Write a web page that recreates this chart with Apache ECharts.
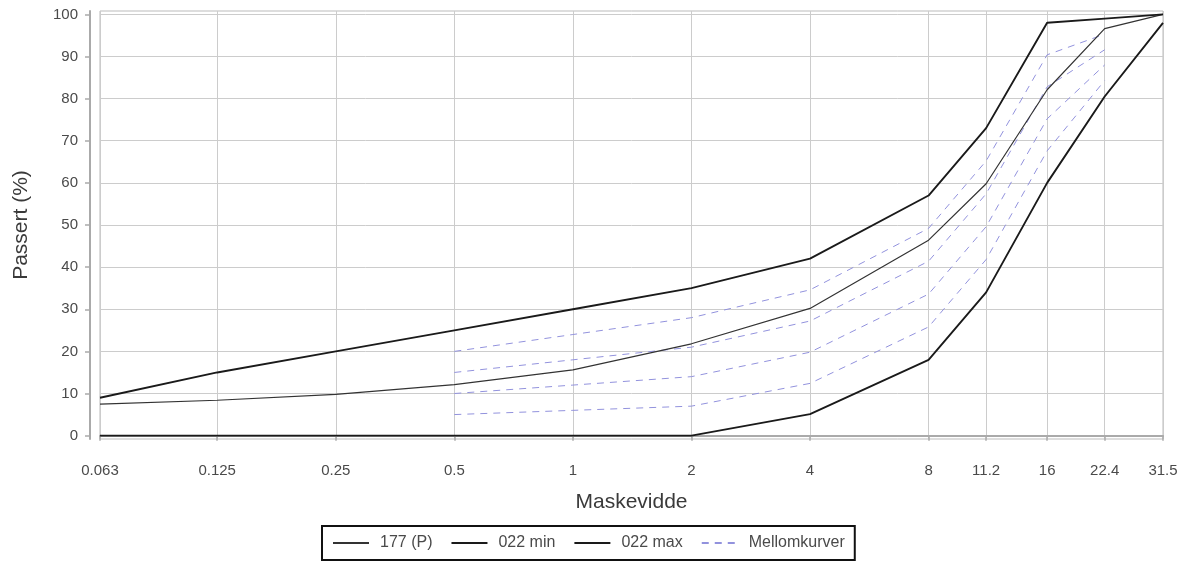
<!DOCTYPE html>
<html>
<head>
<meta charset="utf-8">
<script src="https://cdn.jsdelivr.net/npm/echarts@6/dist/echarts.min.js"></script>
<style>html,body{margin:0;padding:0;background:#fff}#c{width:1189px;height:563px}</style>
</head>
<body>
<div id="c"></div>
<script>
const sieves = [0.063, 0.125, 0.25, 0.5, 1, 2, 4, 8, 11.2, 16, 22.4, 31.5];
const p177   = [7.5, 8.4, 9.8, 12.1, 15.6, 21.8, 30.2, 46.4, 59.8, 82.1, 96.6, 100];
const min022 = [0, 0, 0, 0, 0, 0, 5.1, 18, 34, 60, 80.5, 98];
const max022 = [9, 15, 20, 25, 30, 35, 42, 57, 73, 98, 99, 100];
const mellomSieves = [0.5, 1, 2, 4, 8, 11.2, 16, 22.4];
const mellom1 = [20, 24, 28, 34.6, 49.2, 65.2, 90.4, 95.3];
const mellom2 = [15, 18, 21, 27.2, 41.4, 57.4, 82.8, 91.6];
const mellom3 = [10, 12, 14, 19.8, 33.6, 49.6, 75.2, 88];
const mellom4 = [5, 6, 7, 12.4, 25.8, 41.8, 67.6, 84.3];
const yTicks = [0, 10, 20, 30, 40, 50, 60, 70, 80, 90, 100];
const legendNames = ['177 (P)', '022 min', '022 max', 'Mellomkurver'];

const pairs = (xs, ys) => xs.map((x, i) => [x, ys[i]]);
const font = 'Arial, "Liberation Sans", sans-serif';
const textColor = '#4a4a4a';

const dashed = (vals) => ({
  name: 'Mellomkurver', type: 'line', data: pairs(mellomSieves, vals),
  symbol: 'none', z: 2,
  lineStyle: { color: '#9292dd', width: 1, type: [7, 6] },
  itemStyle: { color: '#9292dd' }
});

const chart = echarts.init(document.getElementById('c'), null, { renderer: 'canvas' });
chart.setOption({
  animation: false,
  grid: { left: 100, right: 26, top: 11, bottom: 124, show: true, borderColor: '#bbb', borderWidth: 1 },
  xAxis: {
    type: 'log', logBase: 2, min: 0.063, max: 31.5,
    offset: 12,
    name: 'Maskevidde', nameLocation: 'middle', nameGap: 41,
    nameTextStyle: { fontSize: 21, color: '#3a3a3a', fontFamily: font },
    axisLine: { show: true, lineStyle: { color: '#aaa', width: 2 } },
    axisTick: { show: true, length: 5, customValues: sieves, lineStyle: { color: '#aaa', width: 1.5 } },
    axisLabel: { customValues: sieves, margin: 12, fontSize: 15, color: textColor, fontFamily: font,
      formatter: v => String(+(+v).toPrecision(3)) },
    splitLine: { show: true, lineStyle: { color: '#ccc', width: 1 } },
    minorTick: { show: false }, minorSplitLine: { show: false }
  },
  yAxis: {
    type: 'value', min: -0.8, max: 100.8,
    offset: 10,
    name: 'Passert (%)', nameLocation: 'middle', nameGap: 58, nameRotate: 90,
    nameTextStyle: { fontSize: 21, color: '#3a3a3a', fontFamily: font },
    axisLine: { show: true, lineStyle: { color: '#aaa', width: 2 } },
    axisTick: { show: true, length: 5, customValues: yTicks, lineStyle: { color: '#aaa', width: 1.5 } },
    axisLabel: { customValues: yTicks, margin: 12, fontSize: 15, color: textColor, fontFamily: font },
    splitLine: { show: true, lineStyle: { color: '#ccc', width: 1 } }
  },
  legend: {
    data: legendNames,
    left: 322, top: 526,
    padding: [9, 10, 9, 10],
    itemGap: 18, itemWidth: 36, itemHeight: 14,
    borderColor: '#111', borderWidth: 2,
    itemStyle: { opacity: 0 },
    textStyle: { fontSize: 16, color: textColor, fontFamily: font, padding: [0, 0, 0, 6] }
  },
  series: [
    dashed(mellom1), dashed(mellom2), dashed(mellom3), dashed(mellom4),
    { name: '177 (P)', type: 'line', data: pairs(sieves, p177), symbol: 'none', z: 3,
      lineStyle: { color: '#333', width: 1.2 }, itemStyle: { color: '#333' } },
    { name: '022 min', type: 'line', data: pairs(sieves, min022), symbol: 'none', z: 4,
      lineStyle: { color: '#1a1a1a', width: 1.9 }, itemStyle: { color: '#1a1a1a' } },
    { name: '022 max', type: 'line', data: pairs(sieves, max022), symbol: 'none', z: 4,
      lineStyle: { color: '#1a1a1a', width: 1.9 }, itemStyle: { color: '#1a1a1a' } }
  ]
});
</script>
</body>
</html>
